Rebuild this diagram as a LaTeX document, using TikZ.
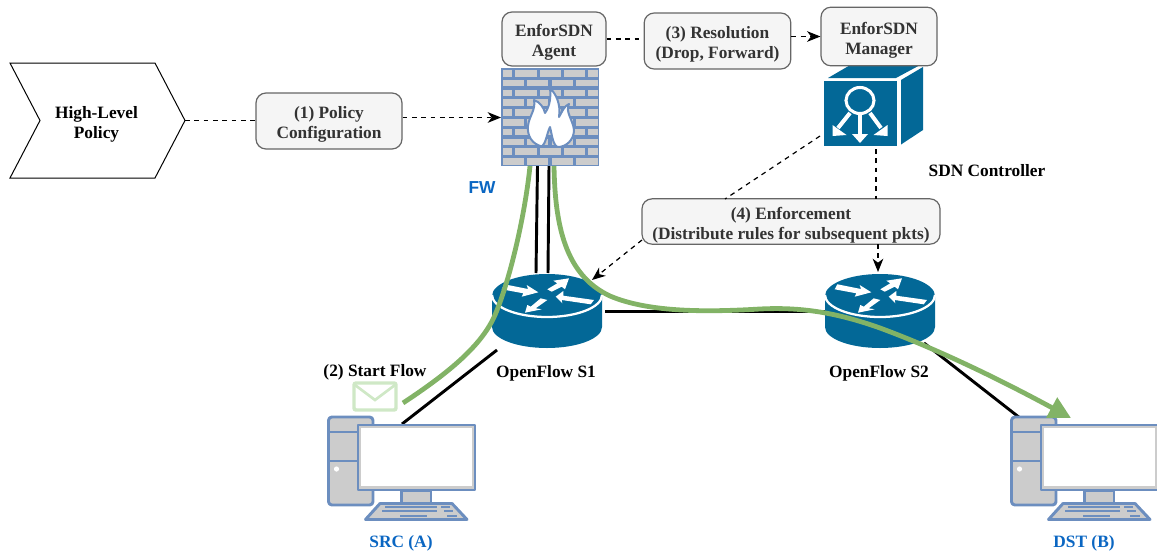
\documentclass[tikz,border=0pt]{standalone}
\usepackage{fontspec}
\setmainfont{Liberation Serif}
\setsansfont{Liberation Sans}
\usetikzlibrary{arrows.meta}
\definecolor{boxfill}{HTML}{F5F5F5}
\definecolor{boxline}{HTML}{666666}
\definecolor{boxtext}{HTML}{333333}
\definecolor{ciscoblue}{HTML}{036897}
\definecolor{devline}{HTML}{6C8EBF}
\definecolor{devgray}{HTML}{CCCCCC}
\definecolor{flowgreen}{HTML}{82B366}
\definecolor{envgreen}{HTML}{CFE8C6}
\definecolor{labelblue}{HTML}{0A66C2}
\newcommand{\firststrut}{\rule{0pt}{14.6pt}}
\tikzset{
  graybox/.style={draw=boxline,fill=boxfill,rounded corners=7.5,line width=0.9pt,align=center,
    text=boxtext,font=\bfseries\fontsize{13}{15}\selectfont,inner sep=0pt},
  lbl/.style={font=\bfseries\fontsize{13}{15}\selectfont,align=center,inner sep=0pt},
  bluelbl/.style={font=\bfseries\fontsize{13}{15}\selectfont,text=labelblue,inner sep=0pt},
  anchorbox/.style={inner sep=0pt,outer sep=0pt,minimum width=#1},
  dashline/.style={dash pattern=on 3.6pt off 3.4pt,line width=0.9pt,black},
  dasharrow/.style={dashline,-{Stealth[length=10pt,width=8pt,inset=3pt]}},
  blackline/.style={line width=2.2pt,black},
  flowline/.style={line width=3.6pt,flowgreen},
  devstroke/.style={draw=devline,line width=2.2pt,line join=round,fill=devgray},
}
\newcommand{\routericon}[2]{%
\begin{scope}[shift={(#1,#2)}]
  \fill[ciscoblue] (-55,0) -- (-55,31) arc[x radius=55,y radius=21,start angle=180,end angle=0] -- (55,0)
     arc[x radius=55,y radius=22,start angle=0,end angle=-180] -- cycle;
  \draw[white,line width=1.7pt] (-55,-1) arc[x radius=55,y radius=22,start angle=180,end angle=0];
  \fill[white] (-42.7,-11.7) -- (-19,-7) -- (-20.3,-11) -- (-8.7,-3.7) -- (-25.3,0.7) -- (-23.7,-2.7) -- (-45.3,-6.7) -- cycle;
  \fill[white] (22,-17.7) -- (6.3,-15.3) -- (10.3,-12.7) -- (0.3,-6.7) -- (4.7,-4.3) -- (14.7,-9.3) -- (18,-6.7) -- cycle;
  \fill[white] (8.7,0.7) -- (16.3,-5) -- (16.3,-0.3) -- (47,4) -- (43.7,8.3) -- (14.7,4) -- (15.3,7.3) -- cycle;
  \fill[white] (-22,16.7) -- (-19.7,9) -- (-16.3,10.7) -- (-6.3,2.3) -- (0.3,4) -- (-11.3,12.3) -- (-5.3,13.3) -- cycle;
\end{scope}}
\newcommand{\pcicon}[2]{%
\begin{scope}[shift={(#1,#2)}]
  \draw[devstroke,rounded corners=2.5] (328.5,417) rectangle (373,505);
  \draw[devline,line width=2.2pt] (328.5,432) -- (373,432) (328.5,461) -- (373,461);
  \fill[white] (336.5,469) circle[radius=2.6];
  \draw[devstroke] (401.5,491) rectangle (431,503);
  \draw[devstroke,fill=devgray] (358,425) rectangle (475,490);
  \fill[white] (361,428) rectangle (472,486);
  \draw[devstroke] (380,503.5) -- (452,503.5) -- (467,519.5) -- (365.5,519.5) -- cycle;
  \draw[devline,line width=1.6pt] (385,507) -- (437,507) (441,507) -- (450,507)
     (382,511) -- (437,511) (444,511) -- (453,511) (400,516) -- (427,516) (447,516) -- (457,516);
\end{scope}}
\begin{document}
\begin{tikzpicture}[x=0.75pt,y=-0.75pt]
\useasboundingbox (0,0) rectangle (1157,550);

% anchors of the icons
\node[anchorbox=73.5pt,minimum height=73.5pt] (fw) at (550,117.5) {};
\node[anchorbox=74pt,minimum height=61pt] (ctrl) at (873,105) {};
\node[anchorbox=82.5pt,minimum height=56pt] (s1) at (547,311) {};
\node[anchorbox=82.5pt,minimum height=56pt] (s2) at (880,311) {};
\node[anchorbox=110pt,minimum height=77pt] (src) at (401,468) {};
\node[anchorbox=110pt,minimum height=77pt] (dst) at (1084,468) {};

% black links
\coordinate (fwa) at (537.5,166);
\coordinate (fwb) at (549,166);
\coordinate (s1a) at (536,273);
\coordinate (s1b) at (548,273);
\coordinate (s1r) at (605,311.5);
\coordinate (s2l) at (826,311.5);
\coordinate (s2d) at (924,343);
\coordinate (dstt) at (1020,418);
\coordinate (s1d) at (497,350);
\coordinate (srct) at (402,424);
\draw[blackline] (fwa) -- (s1a);
\draw[blackline] (fwb) -- (s1b);
\draw[blackline] (s1r) -- (s2l);
\draw[blackline] (s1d) -- (srct);
\draw[blackline] (s2d) -- (dstt);

% routers
\routericon{547}{296}
\routericon{880}{296}

% computers
\pcicon{0}{0}
\pcicon{683}{0}

% firewall
\fill[devline] (501,68) rectangle (599,166);
\foreach \r in {0,2,4,6,8}{
  \foreach \a/\b in {503/512,515/537,540/561,564/585,588/598}{
    \fill[devgray] (\a,{70+\r*9.8}) rectangle (\b,{76.5+\r*9.8});}
  \foreach \a/\b in {503/524,527/548,552/573,576/598}{
    \fill[devgray] (\a,{79.8+\r*9.8}) rectangle (\b,{86.3+\r*9.8});}
}
\draw[fill=white,draw=devline,line width=1.5pt,line join=round]
  (542,146.5) .. controls (532,144) and (527,136) .. (528,126)
  .. controls (529,116) and (536,110) .. (534,100)
  .. controls (540,102) and (544,108) .. (545,113)
  .. controls (550,106) and (551,97) .. (550,88)
  .. controls (556,94) and (561,104) .. (559,117)
  .. controls (562,112) and (564,106) .. (569,104)
  .. controls (565,112) and (573,120) .. (574,130)
  .. controls (574,140) and (566,147) .. (558,147)
  .. controls (553,146) and (552,135) .. (550,127)
  .. controls (547,133) and (546,143) .. (542,146.5) -- cycle;

% SDN controller cube
\fill[ciscoblue] (901,80) -- (923,67) -- (923,130) -- (901,144.5) -- cycle;
\fill[ciscoblue] (828,78) -- (896,78) -- (922,64) -- (852,64) -- cycle;
\fill[ciscoblue] (824,81) rectangle (897,146);
\draw[white,line width=2.3pt] (860,100.5) ellipse[x radius=14,y radius=13];
\draw[white,line width=3pt] (860,114) -- (860,136);
\fill[white] (852,134) -- (868,134) -- (860,143) -- cycle;
\draw[white,line width=3pt] (850,113) -- (838,128);
\fill[white] (832.5,125) -- (846.5,135) -- (832.5,136) -- cycle;
\draw[white,line width=3pt] (870,113) -- (881,128);
\fill[white] (887.5,125) -- (873.5,135) -- (887.5,136) -- cycle;

% boxes
\node[inner sep=0pt,align=center,font=\bfseries\fontsize{13}{15}\selectfont] (hl) at (96.5,124.5) {High-Level\\Policy};
\draw[black,line width=0.75pt,line join=miter] (10,63) -- (155,63) -- (185,120.5) -- (155,178) -- (10,178) -- (40,120.5) -- cycle;
\coordinate (hlr) at (185,120.5);
\node[graybox,minimum width=109.5pt,minimum height=42pt] (cfg) at (329,121) {\firststrut(1) Policy\\Configuration};
\node[graybox,minimum width=78pt,minimum height=40.5pt] (agent) at (554,39) {\firststrut EnforSDN\\Agent};
\node[graybox,minimum width=110pt,minimum height=42pt] (res) at (717.5,41) {\firststrut(3) Resolution\\(Drop, Forward)};
\node[graybox,minimum width=87pt,minimum height=44pt] (mgr) at (879,36.5) {\firststrut EnforSDN\\Manager};
\node[graybox,minimum width=223.5pt,minimum height=34pt] (enf) at (791,221.5) {\firststrut(4) Enforcement\\(Distribute rules for subsequent pkts)};

% dashed connectors
\draw[dashline] (hlr) -- (cfg.west |- hlr);
\draw[dasharrow] (cfg.east |- fw.west) -- (fw.west);
\draw[dashline] (agent.east) -- (res.west |- agent.east);
\draw[dasharrow] (res.east |- mgr.west) -- (mgr.west);
\coordinate (ctrlsw) at (820,136);
\coordinate (enft) at (725,199);
\draw[dashline] (ctrlsw) -- (enft);
\coordinate (ctrls) at (876,149);
\coordinate (enfb) at (876,199);
\draw[dashline] (ctrls) -- (enfb);
\coordinate (enfl) at (642,240);
\coordinate (s1ne) at (592,280);
\draw[dasharrow] (enfl) -- (s1ne);
\coordinate (enfd) at (878,244);
\coordinate (s2t) at (878,272);
\draw[dasharrow] (enfd) -- (s2t);

% green flow
\coordinate (flowa) at (403,403);
\coordinate (flowb) at (530,166);
\coordinate (flowc) at (554,166);
\coordinate (flowd) at (1071,418);
\draw[flowline] (flowa) .. controls (450,372) and (482,345) .. (495,315)
   .. controls (510,280) and (525,215) .. (flowb);
\draw[flowline,-{Triangle[length=16.5pt,width=16.5pt]}] (flowc) .. controls (555,225) and (565,275) .. (610,296)
   .. controls (650,313) and (710,312) .. (760,309)
   .. controls (800,307) and (835,312) .. (880,328)
   .. controls (945,352) and (1010,385) .. (flowd);

% envelope
\draw[draw=envgreen,fill=white,line width=2.6pt,rounded corners=1.5] (354,383) rectangle (396,410);
\draw[envgreen,line width=2pt] (355,385) -- (375,400) -- (395,385);

% labels
\node[bluelbl,font=\sffamily\bfseries\fontsize{13}{15}\selectfont] (fwl) at (482,188) {FW};
\node[lbl] (ctl) at (987,171) {SDN Controller};
\node[lbl] (s1l) at (546,373) {OpenFlow S1};
\node[lbl] (s2lb) at (879,373) {OpenFlow S2};
\node[lbl] (sf) at (375,372.5) {(2) Start Flow};
\node[bluelbl] (srcl) at (401,543.5) {SRC (A)};
\node[bluelbl] (dstl) at (1084,543.5) {DST (B)};
\end{tikzpicture}
\end{document}
